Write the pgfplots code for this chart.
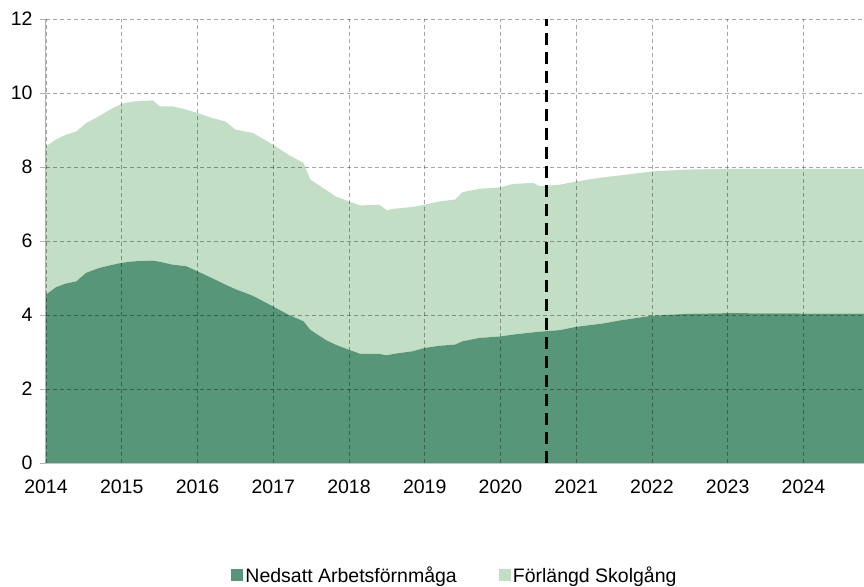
\documentclass[border=0pt]{standalone}
\usepackage{pgfplots}
\pgfplotsset{compat=1.18}
\usepackage{pgfplotstable}
\usepackage{fontspec}
\setmainfont{Liberation Sans}
\definecolor{dkgreen}{HTML}{589679}
\definecolor{ltgreen}{HTML}{C2DEC5}
\pgfplotstableread{
x ned forl
2014.00 4.55 4.01
2014.13 4.75 3.99
2014.26 4.85 4.02
2014.40 4.91 4.05
2014.53 5.14 4.05
2014.70 5.27 4.10
2014.88 5.36 4.23
2015.00 5.41 4.30
2015.15 5.45 4.32
2015.41 5.47 4.33
2015.50 5.44 4.20
2015.67 5.36 4.28
2015.85 5.32 4.23
2016.00 5.18 4.28
2016.20 4.99 4.33
2016.37 4.82 4.41
2016.50 4.70 4.31
2016.73 4.52 4.40
2017.00 4.23 4.37
2017.20 4.01 4.32
2017.40 3.83 4.28
2017.49 3.60 4.06
2017.69 3.33 4.06
2017.82 3.20 4.01
2018.00 3.06 4.01
2018.15 2.95 4.01
2018.40 2.95 4.03
2018.50 2.91 3.92
2018.59 2.95 3.92
2018.84 3.02 3.90
2019.00 3.11 3.87
2019.20 3.17 3.90
2019.40 3.20 3.92
2019.50 3.29 4.03
2019.72 3.38 4.03
2020.00 3.42 4.03
2020.16 3.47 4.07
2020.43 3.53 4.04
2020.52 3.55 3.93
2020.78 3.59 3.93
2021.00 3.68 3.93
2021.35 3.77 3.95
2021.57 3.85 3.92
2022.00 3.98 3.90
2022.45 4.03 3.90
2023.00 4.05 3.90
2024.00 4.04 3.91
2024.80 4.04 3.91
}\datatab
\begin{document}
\begin{tikzpicture}
\begin{axis}[
  scale only axis,
  width=818pt, height=444pt,
  xmin=2014, xmax=2024.8, ymin=0, ymax=12,
  xtick={2014,2015,...,2024},
  ytick={0,2,...,12},
  xticklabel style={/pgf/number format/1000 sep={}, /pgf/number format/assume math mode=true, font=\fontsize{19.5}{22}\selectfont, yshift=-7pt},
  yticklabel style={/pgf/number format/assume math mode=true, font=\fontsize{19.5}{22}\selectfont, xshift=-4pt},
  axis x line=bottom, axis y line=left,
  axis line style={draw=gray!60, line width=1pt, -},
  x axis line style={draw=gray!45},
  xtick style={draw=none},
  ytick style={draw=gray!60, line width=0.8pt},
  tick align=outside, major tick length=6pt,
  grid=major,
  major grid style={draw=black, opacity=0.35, line width=0.8pt, dash pattern=on 4pt off 3pt},
  axis on top,
  stack plots=y,
  legend style={at={(0.5,0)}, anchor=center, yshift=-112pt, draw=none, font=\fontsize{19.5}{22}\selectfont, legend columns=2, /tikz/every even column/.append style={column sep=40pt}},
  legend image code/.code={\fill[#1] (2pt,-6pt) rectangle (14pt,6pt);},
  legend cell align=left,
]
\addplot[fill=dkgreen, draw=none] table[x=x, y=ned] {\datatab} \closedcycle;
\addlegendentry{Nedsatt Arbetsförnmåga}
\addplot[fill=ltgreen, draw=none] table[x=x, y=forl] {\datatab} \closedcycle;
\addlegendentry{Förlängd Skolgång}
\end{axis}
\begin{axis}[
  scale only axis,
  width=818pt, height=444pt,
  xmin=2014, xmax=2024.8, ymin=0, ymax=12,
  hide axis,
]
\addplot[black, line width=2.6pt, dash pattern=on 12pt off 7pt] coordinates {(2020.61,0) (2020.61,12)};
\end{axis}
\pgfresetboundingbox
\path ([xshift=-46pt,yshift=-123pt]current axis.south west) rectangle ([yshift=19pt]current axis.north east);
\end{tikzpicture}
\end{document}
